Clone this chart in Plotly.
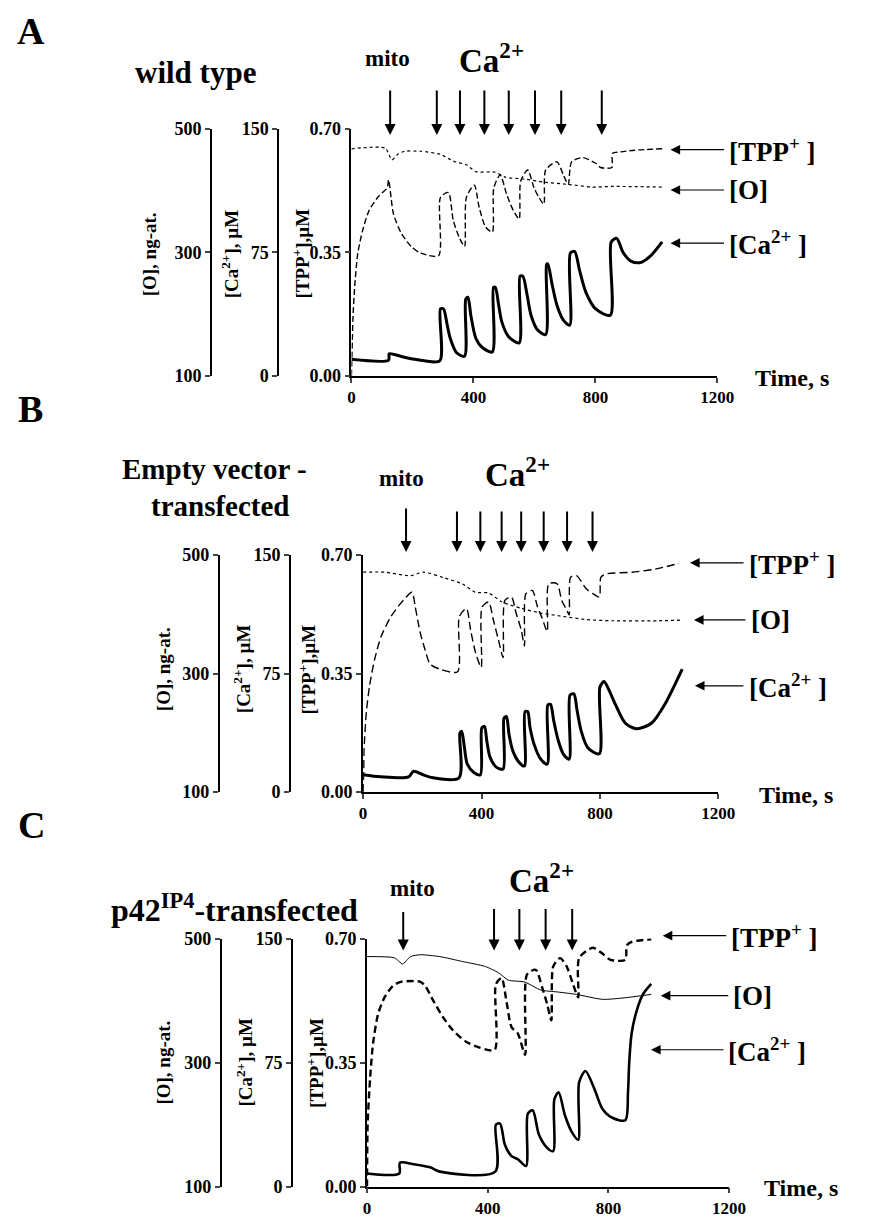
import plotly.graph_objects as go

# ---------------- Panel A : wild type ----------------
a_ca_t = [0, 122, 124, 164, 207, 239, 290, 292, 302, 313, 324, 345, 371, 375, 382, 392, 408, 430, 462,
          466, 472, 483, 493, 515, 550, 553, 562, 576, 589, 610, 637, 640, 644, 658, 674, 695, 716,
          718, 732, 748, 769, 801, 849, 852, 870, 891, 918, 950, 981, 1019]
a_ca = [10.1, 9.6, 13.5, 11.8, 10.1, 9.2, 9.2, 40.7, 40.7, 32.1, 22.9, 14.1, 12.0, 46.7, 47.8, 36.4, 22.9, 17.1, 14.6,
        53.8, 53.8, 42.9, 33.0, 24.0, 20.1, 60.6, 60.6, 49.3, 36.9, 28.1, 25.1, 67.7, 68.1, 55.7, 42.9, 33.9, 30.9,
        74.6, 75.6, 64.3, 50.8, 40.7, 36.9, 81.4, 83.6, 75.0, 69.6, 69.0, 72.9, 81.4]
a_tpp_t = [0, 3, 5, 11, 21, 37, 58, 90, 117, 122, 138, 164, 196, 228, 286, 292, 318, 334, 355, 371,
           377, 403, 419, 440, 462, 467, 488, 509, 531, 550, 555, 578, 599, 615, 631, 637, 674, 695, 711,
           722, 759, 801, 817, 854, 856, 881, 928, 1019]
a_tpp = [0.0, 0.10, 0.163, 0.256, 0.348, 0.413, 0.469, 0.51, 0.533, 0.556, 0.459, 0.404, 0.367, 0.348, 0.341,
         0.506, 0.52, 0.441, 0.39, 0.367, 0.506, 0.541, 0.478, 0.422, 0.408, 0.533, 0.57, 0.515, 0.469, 0.445,
         0.552, 0.584, 0.533, 0.506, 0.487, 0.584, 0.607, 0.57, 0.543, 0.607, 0.619, 0.603, 0.591, 0.591,
         0.631, 0.635, 0.64, 0.644]
a_o_t = [0, 111, 133, 154, 175, 228, 292, 334, 377, 408, 472, 504, 568, 631, 716, 790, 854, 1019]
a_o = [468, 469, 450, 460, 464, 464, 459, 448, 442, 431, 430, 422, 419, 414, 410, 406, 407, 406]
a_mito_time = 127
a_ca_times = [280, 356, 436, 516, 602, 688, 821]

# ---------------- Panel B : empty vector ----------------
b_ca_t = [0, 60, 154, 170, 203, 236, 324, 327, 333, 341, 352, 374, 396, 401, 410, 418, 429, 451, 473,
          476, 484, 493, 506, 528, 545, 547, 556, 564, 578, 600, 622, 624, 633, 644, 660, 677, 696,
          699, 712, 723, 737, 759, 798, 800, 814, 831, 853, 886, 924, 974, 1018, 1078]
b_ca = [10.9, 9.6, 9.6, 13.1, 10.9, 9.0, 9.0, 37.3, 38.4, 30.0, 17.6, 12.4, 10.9, 40.5, 41.6, 32.1, 21.9, 15.6, 14.6,
        46.7, 47.8, 36.4, 25.9, 18.6, 16.5, 50.8, 50.8, 40.7, 30.0, 20.8, 17.6, 55.1, 55.5, 45.0, 32.1, 23.8, 20.8,
        61.3, 62.1, 51.4, 38.4, 28.1, 24.2, 66.4, 69.9, 64.3, 55.1, 43.5, 40.1, 43.5, 55.1, 77.8]
b_tpp_t = [0, 2, 3, 11, 22, 39, 61, 94, 127, 165, 176, 193, 209, 226, 259, 319, 325, 349, 363, 380, 399,
           402, 424, 440, 457, 473, 479, 501, 517, 534, 545, 550, 572, 589, 605, 622, 627, 655, 671, 688, 696,
           701, 721, 754, 776, 798, 803, 820, 908, 985, 1067]
b_tpp = [0.0, 0.06, 0.121, 0.237, 0.315, 0.392, 0.46, 0.518, 0.557, 0.59, 0.547, 0.47, 0.421, 0.378, 0.363,
         0.355, 0.518, 0.542, 0.479, 0.411, 0.368, 0.547, 0.561, 0.508, 0.45, 0.397, 0.566, 0.576, 0.528, 0.479,
         0.431, 0.586, 0.595, 0.547, 0.513, 0.474, 0.615, 0.615, 0.566, 0.537, 0.523, 0.634, 0.639, 0.60, 0.586,
         0.576, 0.634, 0.644, 0.649, 0.658, 0.675]
b_o_t = [0, 72, 160, 204, 270, 336, 380, 424, 468, 534, 600, 666, 754, 842, 996, 1078]
b_o = [471, 471, 465, 471, 462, 451, 437, 436, 421, 410, 402, 397, 391, 389, 389, 390]
b_mito_time = 145
b_ca_times = [317, 396, 468, 534, 610, 689, 775]

# ---------------- Panel C : p42IP4 ----------------
c_ca_t = [0, 107, 109, 155, 209, 241, 425, 427, 441, 457, 479, 500, 527, 533, 549, 570, 597, 617,
          621, 635, 656, 678, 700, 703, 724, 754, 780, 813, 856, 865, 869, 877, 894, 915, 942]
c_ca = [7.9, 7.9, 14.4, 13.5, 11.6, 9.0, 9.0, 37.3, 38.1, 25.3, 18.4, 16.5, 12.4, 44.1, 46.1, 31.3, 23.4, 21.4,
        52.9, 57.0, 43.1, 33.2, 28.3, 63.0, 69.9, 58.9, 47.1, 41.6, 40.1, 57.0, 74.8, 92.6, 106.5, 116.4, 122.6]
c_tpp_t = [0, 2, 10, 20, 37, 58, 85, 112, 177, 193, 220, 252, 285, 328, 371, 423, 427, 446, 462, 479, 500,
           524, 530, 559, 581, 597, 611, 617, 640, 662, 683, 700, 703, 748, 780, 807, 856, 861, 877, 942]
c_tpp = [0.0, 0.174, 0.303, 0.404, 0.488, 0.534, 0.566, 0.578, 0.578, 0.566, 0.524, 0.478, 0.441, 0.409,
         0.393, 0.386, 0.571, 0.589, 0.524, 0.45, 0.432, 0.372, 0.598, 0.612, 0.561, 0.515, 0.469, 0.621,
         0.645, 0.621, 0.571, 0.534, 0.645, 0.674, 0.658, 0.64, 0.64, 0.681, 0.691, 0.698]
c_o_t = [0, 91, 118, 144, 177, 241, 317, 392, 436, 468, 522, 576, 630, 694, 780, 845, 942]
c_o = [471, 469, 459, 471, 474, 471, 463, 455, 445, 433, 430, 417, 414, 410, 402, 404, 410]
c_mito_time = 120
c_ca_times = [421, 505, 592, 680]

x_ticks = [0, 400, 800, 1200]
o_ticks = [100, 300, 500]
ca_ticks = [0, 75, 150]
tpp_ticks = [0.0, 0.35, 0.70]
tpp_ticktext = ["0.00", "0.35", "0.70"]

W, H = 870, 1227
FONT = "Liberation Serif, Times New Roman, serif"


def px(x):
    return x / W


def py(y):
    return 1 - y / H


panels = [
    dict(ca_t=a_ca_t, ca=a_ca, tpp_t=a_tpp_t, tpp=a_tpp, o_t=a_o_t, o=a_o, mito=a_mito_time, cas=a_ca_times,
         xd=(356, 731), yd=(372, 121), o_pos=212, ca_pos=281,
         o_dash="dot", o_w=1.2, tpp_dash="6px,3px", tpp_w=1.4, ca_w=3.0,
         arrow_tip=127, mito_tail=81, ca_tail=81,
         letter=("A", 28, 21), title=[("wild type", 196, 64, 31)],
         mito_lab=(393, 49), ca_lab=(500, 49),
         leg=[(683, 142, 741, "[TPP<sup>+</sup> ]"), (683, 183, 741, "[O]"), (683, 237, 741, "[Ca<sup>2+</sup> ]")],
         time_lab=(768, 374),
         titles_x=(150, 232, 304), titles_y=248),
    dict(ca_t=b_ca_t, ca=b_ca, tpp_t=b_tpp_t, tpp=b_tpp, o_t=b_o_t, o=b_o, mito=b_mito_time, cas=b_ca_times,
         xd=(368, 732), yd=(795, 554), o_pos=220, ca_pos=293,
         o_dash="dot", o_w=1.2, tpp_dash="8px,4px", tpp_w=1.4, ca_w=3.0,
         arrow_tip=551, mito_tail=506, ca_tail=509,
         letter=("B", 27, 406), title=[("Empty vector -", 216, 467, 29), ("transfected", 222, 504, 29)],
         mito_lab=(407, 476), ca_lab=(526, 470),
         leg=[(703, 562, 761, "[TPP<sup>+</sup> ]"), (707, 620, 763, "[O]"), (708, 687, 761, "[Ca<sup>2+</sup> ]")],
         time_lab=(772, 798),
         titles_x=(163, 244, 311), titles_y=670),
    dict(ca_t=c_ca_t, ca=c_ca, tpp_t=c_tpp_t, tpp=c_tpp, o_t=c_o_t, o=c_o, mito=c_mito_time, cas=c_ca_times,
         xd=(372, 743), yd=(1196, 944), o_pos=222, ca_pos=295,
         o_dash="solid", o_w=1.0, tpp_dash="7px,4px", tpp_w=2.4, ca_w=2.6,
         arrow_tip=956, mito_tail=916, ca_tail=913,
         letter=("C", 28, 828), title=[("p42<sup>IP4</sup>-transfected", 236, 913, 32)],
         mito_lab=(419, 893), ca_lab=(551, 882),
         leg=[(675, 941, 743, "[TPP<sup>+</sup> ]"), (673, 1002, 745, "[O]"), (663, 1057, 740, "[Ca<sup>2+</sup> ]")],
         time_lab=(777, 1198),
         titles_x=(163, 246, 318), titles_y=1070),
]

fig = go.Figure()
layout = dict(width=W, height=H, margin=dict(l=0, r=0, t=0, b=0), paper_bgcolor="white",
              plot_bgcolor="rgba(0,0,0,0)", showlegend=False, font=dict(family=FONT, color="black"))
annotations = []

ytickfont = dict(family=FONT, size=18, color="black", weight="bold")
xtickfont = dict(family=FONT, size=17, color="black", weight="bold")

for i, p in enumerate(panels):
    xn = "x" if i == 0 else f"x{i + 1}"
    xk = "xaxis" if i == 0 else f"xaxis{i + 1}"
    n_tpp, n_o, n_ca = 3 * i + 1, 3 * i + 2, 3 * i + 3
    yn = lambda n: "y" if n == 1 else f"y{n}"
    yk = lambda n: "yaxis" if n == 1 else f"yaxis{n}"

    layout[xk] = dict(domain=[px(p["xd"][0]), px(p["xd"][1])], range=[0, 1200], anchor=yn(n_tpp),
                      tickvals=x_ticks, ticks="outside", ticklen=5, tickwidth=1.5, showline=True,
                      linecolor="black", linewidth=1.5, showgrid=False, zeroline=False, tickfont=xtickfont)
    common = dict(ticks="outside", ticklen=5, tickwidth=2, showline=True, linecolor="black", linewidth=1.8,
                  showgrid=False, zeroline=False, tickfont=ytickfont)
    layout[yk(n_tpp)] = dict(domain=[py(p["yd"][0]), py(p["yd"][1])], range=[0, 0.7], anchor=xn,
                             tickvals=tpp_ticks, ticktext=tpp_ticktext, **common)
    layout[yk(n_o)] = dict(range=[100, 500], overlaying=yn(n_tpp), anchor="free", position=px(p["o_pos"]),
                           side="left", tickvals=o_ticks, **common)
    layout[yk(n_ca)] = dict(range=[0, 150], overlaying=yn(n_tpp), anchor="free", position=px(p["ca_pos"]),
                            side="left", tickvals=ca_ticks, **common)

    fig.add_trace(go.Scatter(x=p["o_t"], y=p["o"], xaxis=xn, yaxis=yn(n_o), mode="lines",
                             line=dict(color="black", width=p["o_w"], dash=p["o_dash"], shape="spline",
                                       smoothing=0.6)))
    fig.add_trace(go.Scatter(x=p["tpp_t"], y=p["tpp"], xaxis=xn, yaxis=yn(n_tpp), mode="lines",
                             line=dict(color="black", width=p["tpp_w"], dash=p["tpp_dash"], shape="spline",
                                       smoothing=0.7)))
    fig.add_trace(go.Scatter(x=p["ca_t"], y=p["ca"], xaxis=xn, yaxis=yn(n_ca), mode="lines",
                             line=dict(color="black", width=p["ca_w"], shape="spline", smoothing=0.8)))

    # addition arrows
    for t, tail in [(p["mito"], p["mito_tail"])] + [(c, p["ca_tail"]) for c in p["cas"]]:
        annotations.append(dict(x=t, xref=xn, y=py(p["arrow_tip"]), yref="paper", text="", showarrow=True,
                                ax=0, ay=-(p["arrow_tip"] - tail), arrowhead=2, arrowsize=1.1,
                                arrowwidth=2, arrowcolor="black", standoff=0))
    # legend labels
    for tip, yy, tx, txt in p["leg"]:
        annotations.append(dict(x=px(tip), y=py(yy), xref="paper", yref="paper", text="", showarrow=True,
                                ax=tx - tip - 3, ay=0, arrowhead=2, arrowsize=1.6, arrowwidth=1.2,
                                arrowcolor="black", standoff=0))
        annotations.append(dict(x=px(tx), y=py(yy), xref="paper", yref="paper", text=txt, showarrow=False,
                                xanchor="left", yanchor="middle",
                                font=dict(family=FONT, size=27, color="black", weight="bold")))
    # axis titles
    for xx, txt in zip(p["titles_x"], ["[O], ng-at.", "[Ca<sup>2+</sup>], µM", "[TPP<sup>+</sup>],µM"]):
        annotations.append(dict(x=px(xx), y=py(p["titles_y"]), xref="paper", yref="paper", text=txt,
                                showarrow=False, textangle=-90, xanchor="center", yanchor="middle",
                                font=dict(family=FONT, size=19, color="black", weight="bold")))
    # time label
    annotations.append(dict(x=px(p["time_lab"][0]), y=py(p["time_lab"][1]), xref="paper", yref="paper",
                            text="Time, s", showarrow=False, xanchor="left", yanchor="middle",
                            font=dict(family=FONT, size=24, color="black", weight="bold")))
    # headings
    lt, lx, ly = p["letter"]
    annotations.append(dict(x=px(lx), y=py(ly), xref="paper", yref="paper", text=lt, showarrow=False,
                            xanchor="center", yanchor="middle",
                            font=dict(family=FONT, size=38, color="black", weight="bold")))
    for txt, tx, ty, fs in p["title"]:
        annotations.append(dict(x=px(tx), y=py(ty), xref="paper", yref="paper", text=txt, showarrow=False,
                                xanchor="center", yanchor="middle",
                                font=dict(family=FONT, size=fs, color="black", weight="bold")))
    annotations.append(dict(x=px(p["mito_lab"][0]), y=py(p["mito_lab"][1]), xref="paper", yref="paper",
                            text="mito", showarrow=False, xanchor="center", yanchor="middle",
                            font=dict(family=FONT, size=23, color="black", weight="bold")))
    annotations.append(dict(x=px(p["ca_lab"][0]), y=py(p["ca_lab"][1]), xref="paper", yref="paper",
                            text="Ca<sup>2+</sup>", showarrow=False, xanchor="center", yanchor="middle",
                            font=dict(family=FONT, size=33, color="black", weight="bold")))

layout["annotations"] = annotations
fig.update_layout(**layout)
fig.write_html("out.html")
